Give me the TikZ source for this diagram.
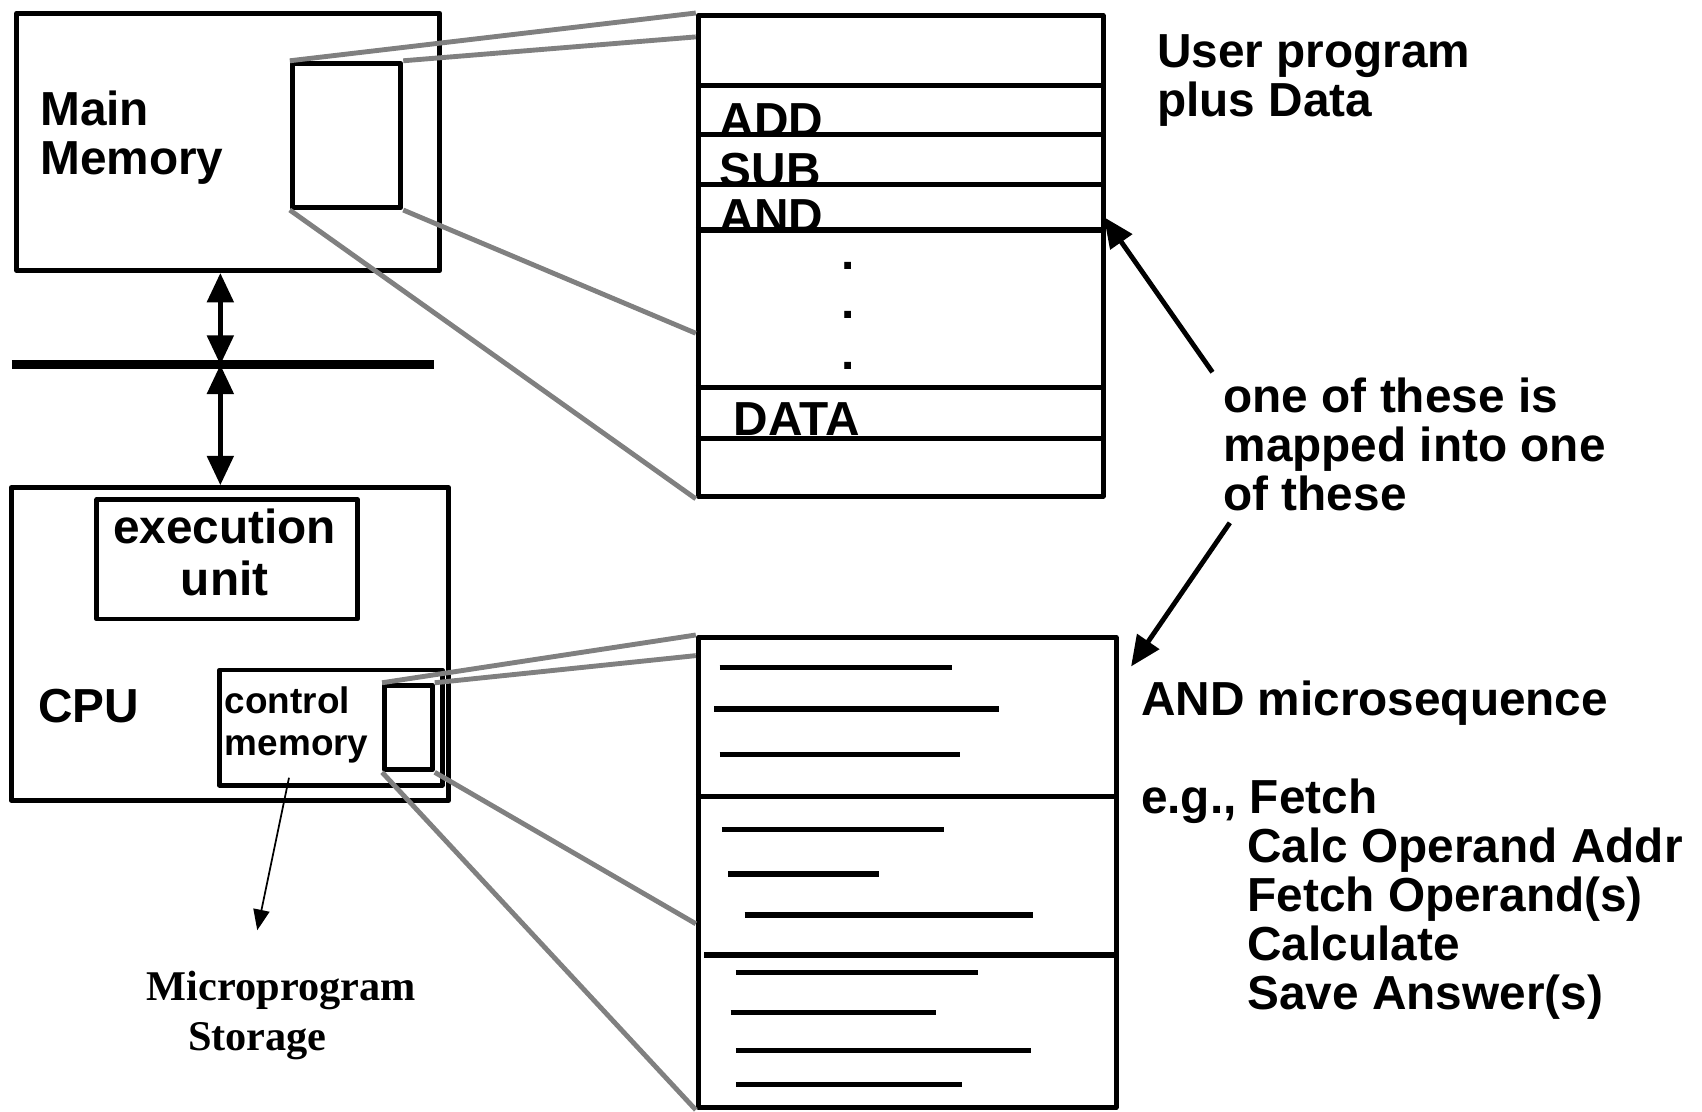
\documentclass[tikz,border=0pt]{standalone}
\usepackage{fontspec}
\setmainfont{Liberation Sans}
\newfontfamily\storefont{Liberation Serif}
\usetikzlibrary{arrows.meta}
\definecolor{zoomgray}{RGB}{128,128,128}
\tikzset{
  box/.style={draw, line width=4.5pt, inner sep=0pt, anchor=north west},
  rule/.style={line width=5pt},
  zoomline/.style={draw=zoomgray, line width=4.5pt},
  bus/.style={line width=8pt},
  dblarrow/.style={line width=4.5pt, {Triangle[length=27pt,width=24pt]}-{Triangle[length=27pt,width=24pt]}},
  maparrow/.style={line width=4.5pt, -{Triangle[length=28pt,width=24pt]}},
  thinarrow/.style={line width=1.6pt, -{Triangle[length=19pt,width=15pt]}},
  bigtext/.style={font=\fontsize{44}{45}\selectfont\bfseries, inner sep=0pt, align=left, anchor=base west},
  cmtext/.style={font=\fontsize{34}{39}\selectfont\bfseries, inner sep=0pt, align=left, anchor=base west},
  storetext/.style={font=\storefont\fontsize{39}{46}\selectfont\bfseries, inner sep=0pt, align=left, anchor=base west}
}
\begin{document}
\begin{tikzpicture}[x=1pt, y=-1pt, line join=round]
  \useasboundingbox (0,0) rectangle (1568,1024);
  \node[box, minimum width=390, minimum height=237] (mainmem) at (13,10) {};
  \node[box, minimum width=100, minimum height=133] (mmsmall) at (267,56) {};
  \node[bigtext] (mmlabel) at (37,161) {Main\\Memory};
  \coordinate (busl) at (11,336);
  \coordinate (busr) at (400,336);
  \coordinate (busx) at (203,336);
  \draw[bus] (busl) -- (busr);
  \node[box, minimum width=403, minimum height=288] (cpu) at (8,447) {};
  \node[box, minimum width=240, minimum height=110] (exec) at (87,458) {};
  \node[bigtext, font=\fontsize{44}{48}\selectfont\bfseries, align=center, anchor=base] (execlabel) at (207,549) {execution\\unit};
  \node[bigtext] (cpulabel) at (35,666) {CPU};
  \node[box, minimum width=205, minimum height=106] (cm) at (200,615) {};
  \node[box, minimum width=44, minimum height=78] (cmsmall) at (352,629) {};
  \node[cmtext] (cmlabel) at (207,696) {control\\memory};
  \node[storetext] (store) at (135,968) {Microprogram\\\hspace*{38pt}Storage};
  \coordinate (storetip) at (237,857);
  \draw[dblarrow] (mainmem.south -| busx) -- (busx);
  \draw[dblarrow] (busx) -- (cpu.north -| busx);
  \draw[thinarrow] ([xshift=-38.5pt,yshift=9pt]cm.south) -- (storetip);

  \node[box, minimum width=373, minimum height=443] (prog) at (641,12) {};
  \node[bigtext] (add) at (663,126) {ADD};
  \node[bigtext] (sub) at (663,172) {SUB};
  \node[bigtext] (and) at (663,214) {AND};
  \node[bigtext] (data) at (676,401) {DATA};
  \foreach \y [count=\i] in {248,293,340}
    \node[bigtext] (dot\i) at (775,\y) {.};
  \foreach \y in {79,124,170,212,357,404}
    \draw[rule] (prog.west |- 0,\y) -- (prog.east |- 0,\y);
  \draw[zoomline] (mmsmall.north west) -- (prog.north west);
  \draw[zoomline] (mmsmall.north east) -- ([yshift=-22pt]prog.north west);
  \draw[zoomline] (mmsmall.south east) -- ([yshift=-295pt]prog.north west);
  \draw[zoomline] (mmsmall.south west) -- (prog.south west);

  \node[box, minimum width=385, minimum height=433] (micro) at (641,585) {};
  \draw[rule] (micro.west |- 0,734) -- (micro.east |- 0,734);
  \draw[rule] (649,880) -- (micro.east |- 0,880);
  \foreach \y/\a/\b in {615/663/877, 653/658/920, 695/663/884, 764/665/870, 805/671/810,
      843/686/952, 896/678/901, 933/673/862, 968/678/950, 999/678/886}
    \draw[rule] (\a,\y) -- (\b,\y);
  \draw[zoomline] (cmsmall.north west) -- (micro.north west);
  \draw[zoomline] (cmsmall.north east) -- ([yshift=-19pt]micro.north west);
  \draw[zoomline] (cmsmall.south east) -- ([yshift=-266pt]micro.north west);
  \draw[zoomline] (cmsmall.south west) -- (micro.south west);

  \node[bigtext] (user) at (1066,107) {User program\\plus Data};
  \node[bigtext] (map) at (1127,470) {one of these is\\mapped into one\\of these};
  \node[bigtext] (andseq) at (1051,659) {AND microsequence};
  \node[bigtext] (eg) at (1051,749) {e.g., Fetch};
  \node[bigtext] (steps) at (1149,930) {Calc Operand Addr\\Fetch Operand(s)\\Calculate\\Save Answer(s)};
  \coordinate (andtip) at (1017,200);
  \coordinate (microtip) at (1042,614);
  \draw[maparrow] ([xshift=-10pt,yshift=5pt]map.north west) -- (andtip);
  \draw[maparrow] ([xshift=6pt,yshift=-11pt]map.south west) -- (microtip);
\end{tikzpicture}
\end{document}
